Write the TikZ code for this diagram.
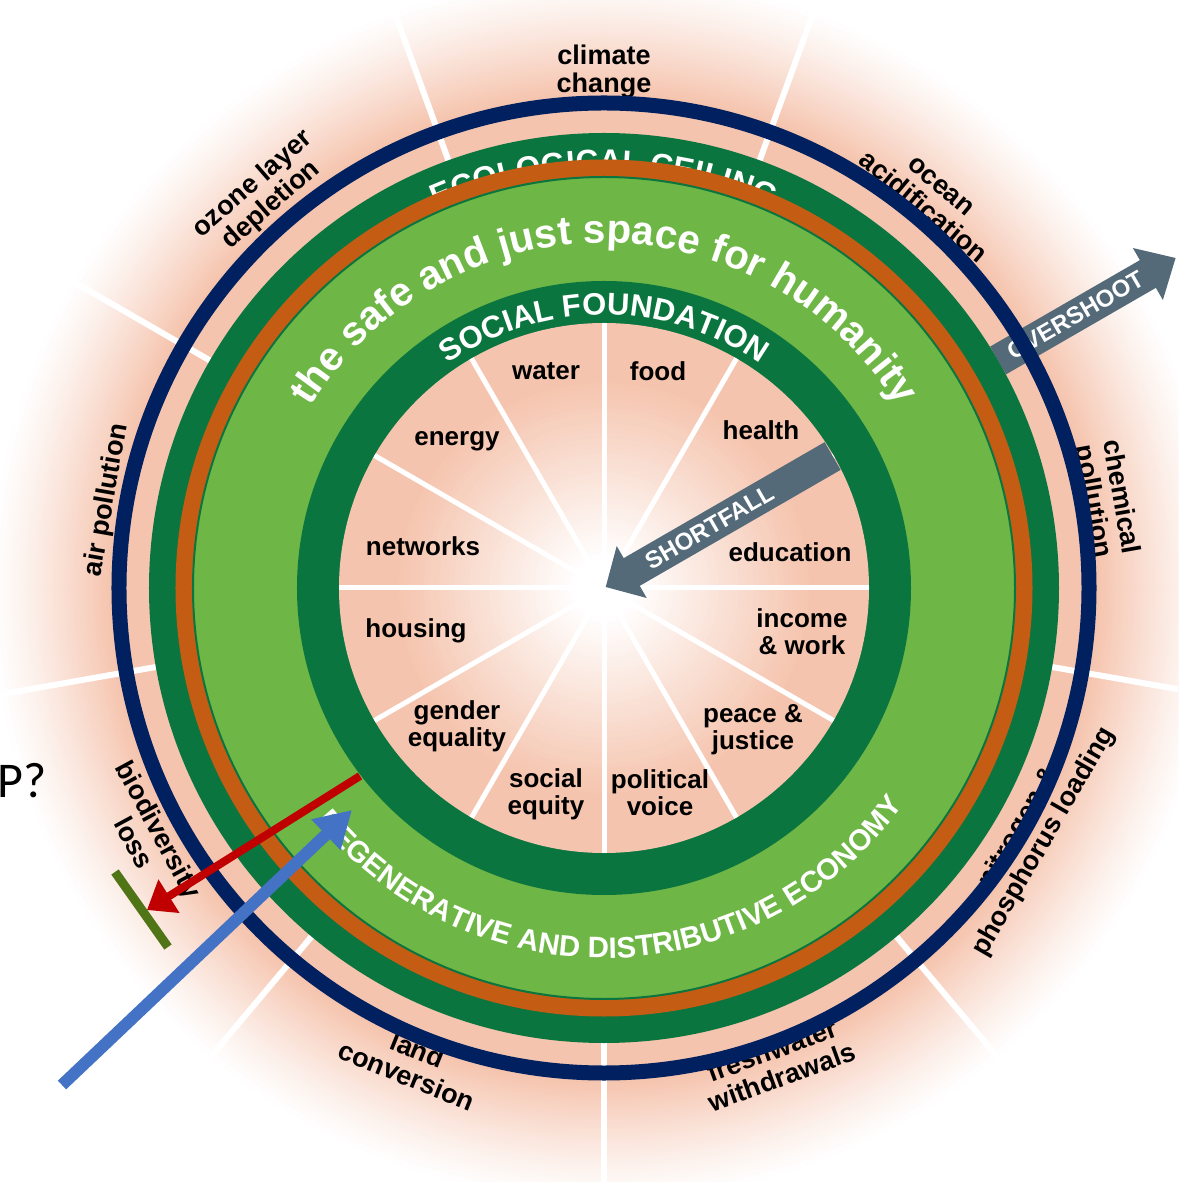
\documentclass[tikz,border=0pt]{standalone}
\usepackage{fontspec}
\newfontfamily\lab{Liberation Sans}
\newfontfamily\calib{Carlito}
\usetikzlibrary{decorations.text, arrows.meta}
\definecolor{pk}{RGB}{245,196,174}
\definecolor{dkg}{RGB}{11,117,63}
\definecolor{ltg}{RGB}{110,182,70}
\definecolor{orng}{RGB}{197,92,20}
\definecolor{navyc}{RGB}{0,32,96}
\definecolor{slate}{RGB}{84,106,121}
\definecolor{redc}{RGB}{192,0,0}
\definecolor{bluec}{RGB}{68,114,196}
\definecolor{olivec}{RGB}{79,117,22}
\newcommand\safefont{\lab\bfseries\fontsize{40.5}{41}\selectfont}
\newcommand\ringfont{\lab\bfseries\fontsize{31}{31}\selectfont}
\newcommand\ecofont{\lab\bfseries\fontsize{31.5}{32}\selectfont}
\newcommand\regfont{\lab\bfseries\fontsize{29.5}{30}\selectfont}
\begin{document}
\begin{tikzpicture}[x=1pt,y=1pt,
  olab/.style={font=\lab\bfseries\fontsize{27}{28}\selectfont, align=center, inner sep=0pt, text=black},
  ilab/.style={font=\lab\bfseries\fontsize{26}{27}\selectfont, align=center, inner sep=0pt, text=black},
  outspoke/.style={draw=white, line width=6pt},
  inspoke/.style={draw=white, line width=5pt},
  arrowlab/.style={font=\lab\bfseries\fontsize{24}{24}\selectfont, text=white, inner sep=0pt},
  bigarrow/.style={fill=slate},
  arctext/.style={decorate, decoration={text along path, text color=white, text align=center, text={#1}}}
]
\useasboundingbox (-604,-594) rectangle (574,588);
\clip (-604,-594) rectangle (574,588);
\fill[white] (-604,-594) rectangle (574,588);
% outer glow
\foreach \i in {0,...,40}{
  \pgfmathsetmacro\rr{615-3*\i}
  \pgfmathsetmacro\pp{100*(\i/40)^1.2}
  \fill[pk!\pp!white] (0,0) circle (\rr);
}
% outer spokes
\foreach \a in {30,70,...,350} \draw[outspoke] (\a:455) -- (\a:800);
% planetary boundary labels
\node[olab] (cc) at (90:516) {climate\\change};
\node[olab, rotate=-40] (oa) at (50:510) {ocean\\acidification};
\node[olab, rotate=-80] (cp) at (10:510) {chemical\\pollution};
\node[olab, rotate=60] (np) at (330:494) {nitrogen \&\\phosphorus loading};
\node[olab, rotate=20] (fw) at (290:506) {freshwater\\withdrawals};
\node[olab, rotate=-22] (lc) at (248:512) {land\\conversion};
\node[olab, rotate=-61.5] (bl) at (208.5:520) {biodiversity\\loss};
\node[olab, rotate=80] (ap) at (170:505) {air pollution};
\node[olab, rotate=41] (oz) at (131:521) {ozone layer\\depletion};
% overshoot arrow
\begin{scope}[rotate=30]
  \fill[bigarrow] (455,16) -- (628,16) -- (628,30) -- (660,0) -- (628,-30) -- (628,-16) -- (455,-16) -- cycle;
\end{scope}
\node[arrowlab, rotate=30] (ovt) at (30:545) {OVERSHOOT};
% rings
\draw[navyc, line width=15pt] (0,0) circle (485);
\fill[dkg] (0,0) circle (455);
\path[arctext={|\ecofont|ECOLOGICAL CEILING}] (140:416) arc[start angle=140, end angle=40, radius=416];
\draw[orng, line width=17pt] (0,0) circle (420);
\filldraw[fill=ltg, draw=dkg, line width=2pt] (0,0) circle (411);
\path[arctext={|\safefont|the safe and just space for humanity}] (175:345) arc[start angle=175, end angle=5, radius=345];
\path[arctext={|\regfont|REGENERATIVE AND DISTRIBUTIVE ECONOMY}] (200:370) arc[start angle=200, end angle=343, radius=370];
\fill[dkg] (0,0) circle (307);
\path[arctext={|\ringfont|SOCIAL FOUNDATION}] (150:273) arc[start angle=150, end angle=30, radius=273];
% inner region
\fill[pk] (0,0) circle (265);
\foreach \i in {0,...,36}{
  \pgfmathsetmacro\rr{210-5*\i}
  \pgfmathsetmacro\pp{100-100*\i/36}
  \fill[pk!\pp!white] (0,0) circle (\rr);
}
\foreach \a in {0,30,...,330} \draw[inspoke] (0,0) -- (\a:265);
% social foundation labels
\node[ilab] (water) at (-58,217) {water};
\node[ilab] (food) at (54,217) {food};
\node[ilab] (energy) at (-147,147) {energy};
\node[ilab] (health) at (157,158) {health};
\node[ilab] (networks) at (-181,42) {networks};
\node[ilab] (education) at (186,36) {education};
\node[ilab] (housing) at (-188,-43) {housing};
\node[ilab] (income) at (198,-44) {income\\\& work};
\node[ilab] (gender) at (-147,-138) {gender\\equality};
\node[ilab] (peace) at (149,-142) {peace \&\\justice};
\node[ilab] (social) at (-58,-206) {social\\equity};
\node[ilab] (political) at (56,-205) {political\\voice};
% shortfall arrow
\begin{scope}[rotate=30]
  \fill[bigarrow] (2,0) -- (32,30) -- (32,16) -- (264,16) -- (264,-16) -- (32,-16) -- (32,-30) -- cycle;
\end{scope}
\node[arrowlab, rotate=30] (sft) at (30:122) {SHORTFALL};
% added marks
\coordinate (rs) at (-244,-188);
\coordinate (re) at (-457,-322);
\draw[redc, line width=8pt, -{Triangle[length=26pt,width=38pt]}] (rs) -- (re);
\coordinate (bs) at (-542,-497);
\coordinate (be) at (-252,-222);
\draw[bluec, line width=12pt, -{Triangle[length=36pt,width=40pt]}] (bs) -- (be);
\coordinate (os) at (-489,-284);
\coordinate (oe) at (-436,-359);
\draw[olivec, line width=9pt] (os) -- (oe);
\node[font=\calib\fontsize{50}{50}\selectfont, anchor=base east, inner sep=0pt] (gdp) at (-557,-209) {P?};
\end{tikzpicture}
\end{document}
